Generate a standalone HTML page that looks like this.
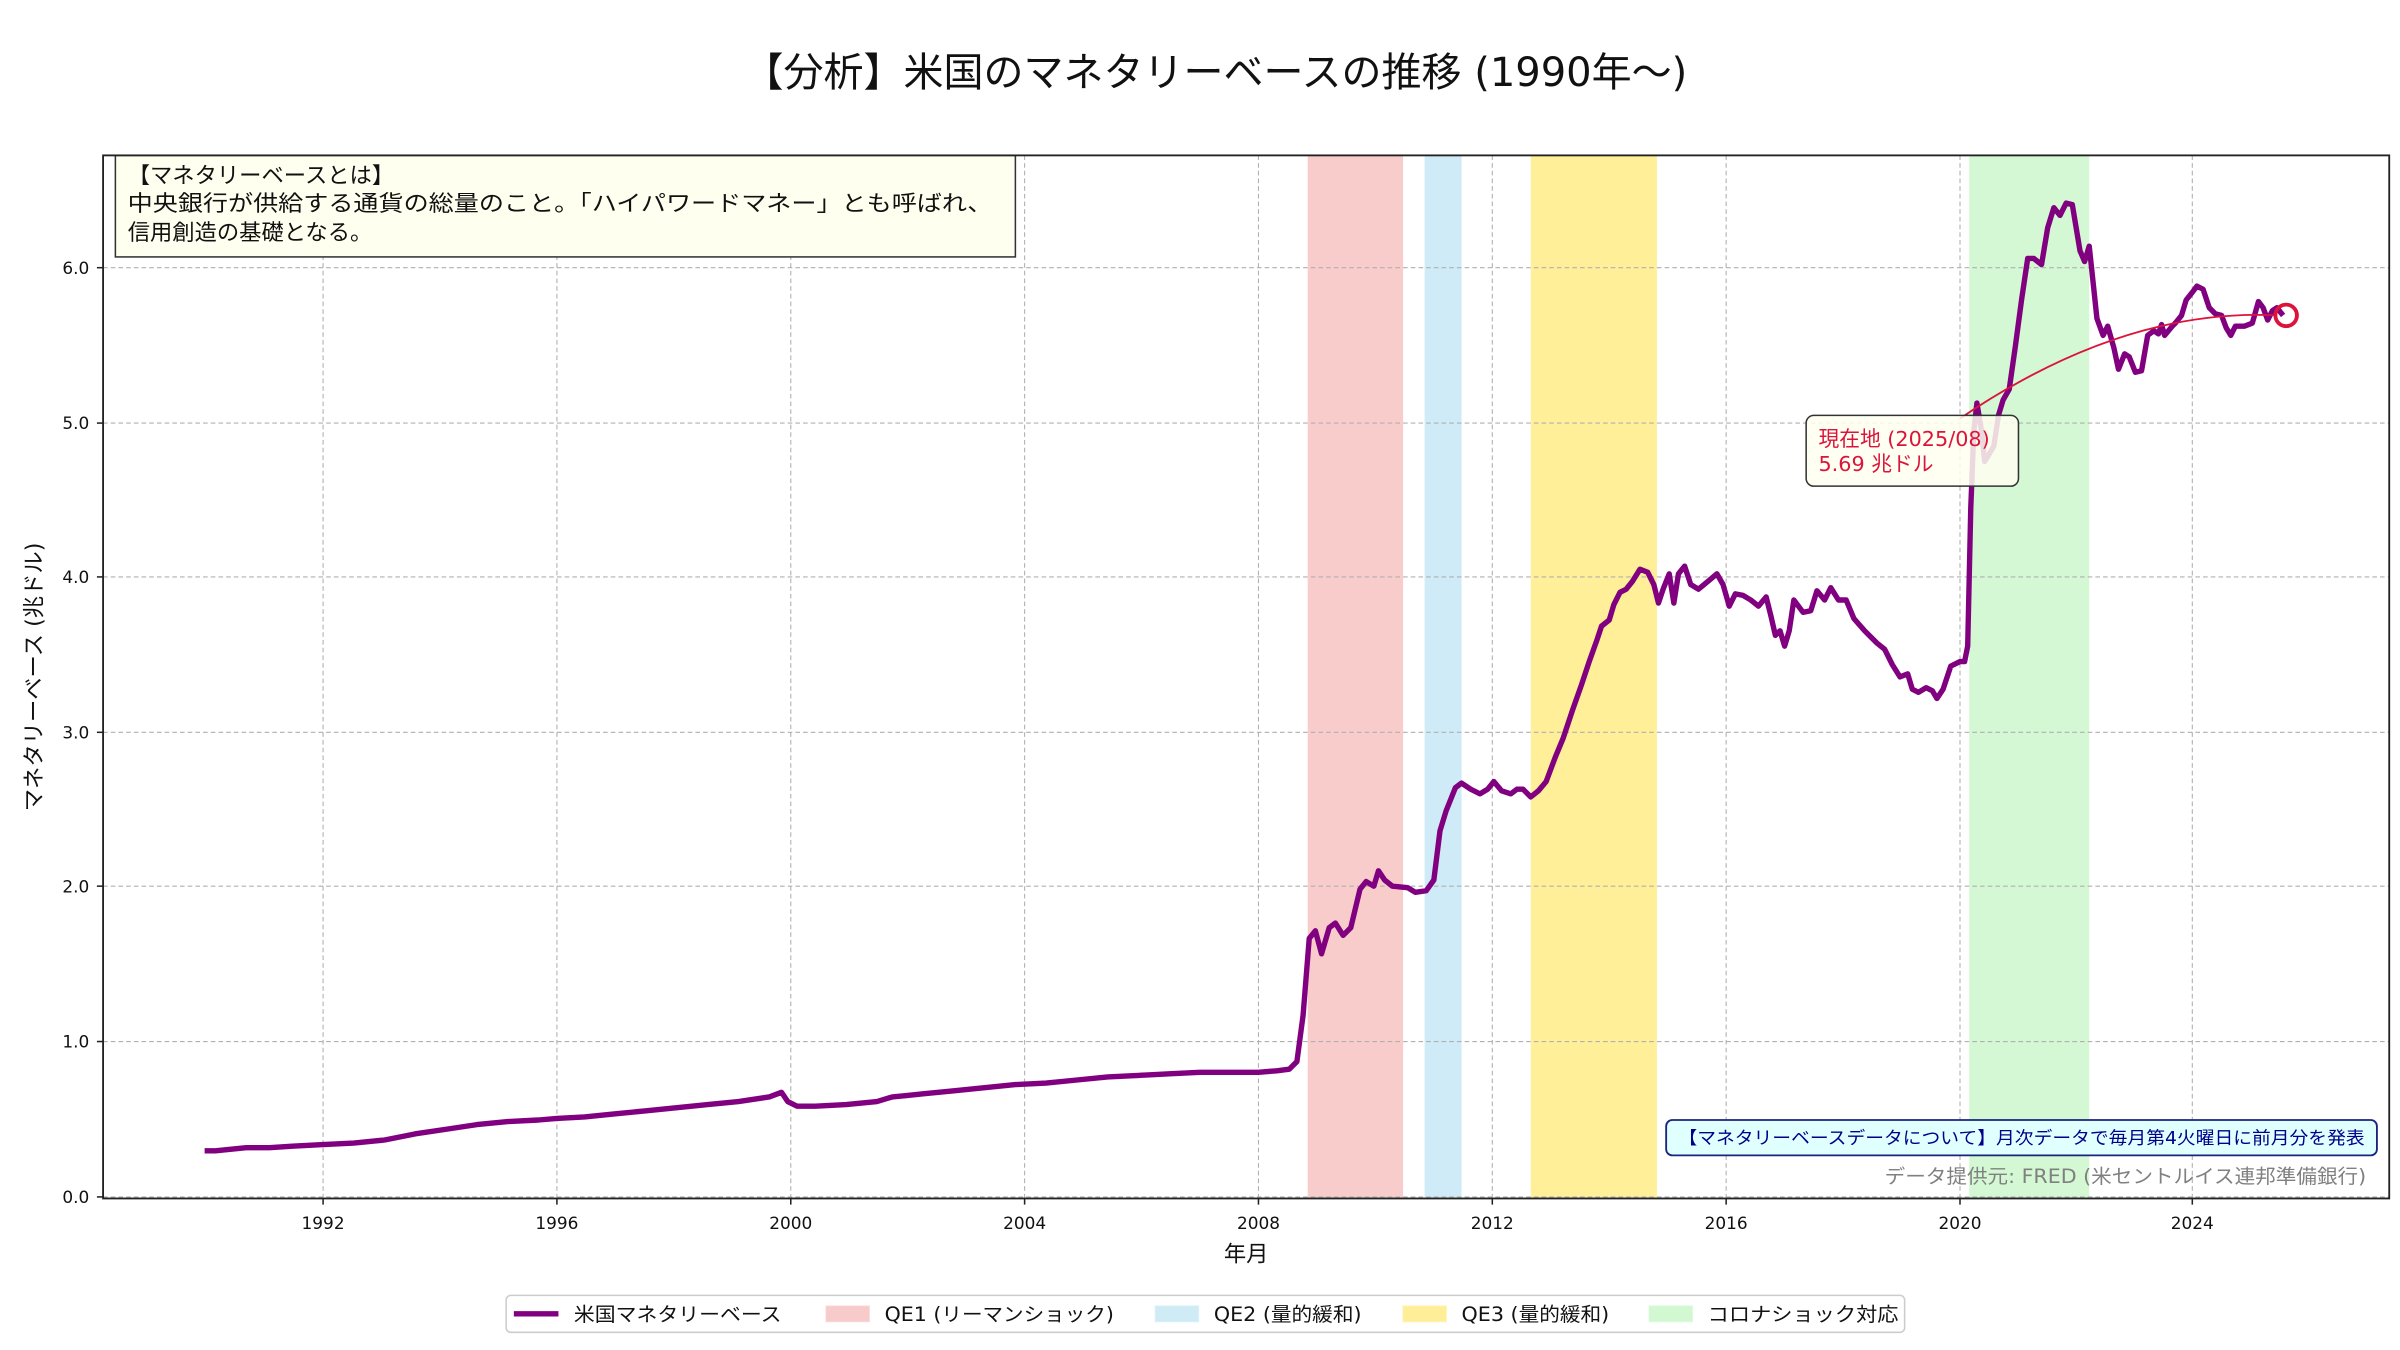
<!DOCTYPE html>
<html><head><meta charset="utf-8"><style>
html,body{margin:0;padding:0;background:#fff}
svg{display:block}
text{font-family:"DejaVu Sans","Noto Sans CJK JP",sans-serif}
</style></head><body>
<svg width="2400" height="1350" viewBox="0 0 1560 877.5" xmlns="http://www.w3.org/2000/svg">
<rect width="1560" height="877.5" fill="#fff"/>
<text x="790" y="56" font-size="26" text-anchor="middle" fill="#111">【分析】米国のマネタリーベースの推移 (1990年〜)</text>
<!-- spans -->
<rect x="850" y="101" width="62" height="678" fill="#f08080" opacity="0.4"/>
<rect x="926" y="101" width="24" height="678" fill="#87ceeb" opacity="0.4"/>
<rect x="995" y="101" width="82" height="678" fill="#ffd700" opacity="0.4"/>
<rect x="1280" y="101" width="78" height="678" fill="#90ee90" opacity="0.4"/>
<!-- grid -->
<g stroke="#b0b0b0" stroke-width="0.7" stroke-dasharray="3,2">
<line x1="210" y1="101" x2="210" y2="779"/><line x1="362" y1="101" x2="362" y2="779"/><line x1="514" y1="101" x2="514" y2="779"/><line x1="666" y1="101" x2="666" y2="779"/><line x1="818" y1="101" x2="818" y2="779"/><line x1="970" y1="101" x2="970" y2="779"/><line x1="1122" y1="101" x2="1122" y2="779"/><line x1="1274" y1="101" x2="1274" y2="779"/><line x1="1425" y1="101" x2="1425" y2="779"/>
<line x1="67" y1="778" x2="1553" y2="778"/><line x1="67" y1="677" x2="1553" y2="677"/><line x1="67" y1="576" x2="1553" y2="576"/><line x1="67" y1="476" x2="1553" y2="476"/><line x1="67" y1="375" x2="1553" y2="375"/><line x1="67" y1="275" x2="1553" y2="275"/><line x1="67" y1="174" x2="1553" y2="174"/>
</g>
<!-- series -->
<polyline fill="none" stroke="#800080" stroke-width="3.5" stroke-linejoin="round" points="133,748 140,748 160,746 175,746 190,745 210,744 230,743 250,741 270,737 290,734 310,731 330,729 350,728 362,727 380,726 400,724 420,722 440,720 460,718 480,716 500,713 508,710 512,716 518,719 530,719 550,718 570,716 580,713 590,712 600,711 620,709 640,707 660,705 680,704 700,702 720,700 740,699 760,698 780,697 800,697 818,697 830,696 838,695 843,690 847,660 851,610 855,605 859,620 864,603 868,600 873,608 878,603 884,578 888,573 893,576 896,566 900,572 905,576 915,577 920,580 927,579 932,572 936,540 940,527 946,512 950,509 956,513 962,516 967,513 971,508 976,514 982,516 986,513 990,513 995,518 1000,514 1005,508 1011,492 1016,480 1022,462 1028,445 1033,430 1038,416 1041,407 1046,403 1049,393 1053,385 1057,383 1061,378 1066,370 1071,372 1075,380 1078,392 1081,383 1085,373 1088,392 1091,373 1095,368 1099,380 1104,383 1110,378 1116,373 1120,380 1124,394 1128,386 1133,387 1138,390 1143,394 1148,388 1151,400 1154,413 1157,410 1160,420 1163,410 1166,390 1172,398 1177,397 1181,384 1186,390 1190,382 1195,390 1200,390 1205,402 1212,410 1220,418 1225,422 1230,432 1235,440 1240,438 1243,448 1247,450 1252,447 1256,449 1259,454 1263,448 1268,433 1274,430 1277,430 1279,420 1281,330 1283,280 1285,262 1288,280 1290,300 1293,295 1296,290 1299,270 1302,260 1306,253 1310,225 1314,195 1318,168 1322,168 1327,172 1331,148 1335,135 1339,140 1343,132 1347,133 1352,163 1355,170 1358,160 1361,188 1363,207 1367,218 1370,212 1374,226 1377,240 1381,230 1384,232 1388,242 1392,241 1396,218 1400,215 1403,217 1405,211 1407,218 1412,212 1414,210 1418,205 1421,195 1425,190 1428,186 1432,188 1436,200 1440,204 1444,205 1447,213 1450,218 1453,212 1456,212 1459,212 1464,210 1468,196 1471,200 1474,208 1477,202 1480,200 1484,205"/>
<!-- annotation -->
<path d="M1274,272 Q1380,200 1480,205" fill="none" stroke="#dc143c" stroke-width="1.2"/>
<circle cx="1486" cy="205" r="7" fill="none" stroke="#dc143c" stroke-width="2.5"/>
<rect x="1174" y="270" width="138" height="46" rx="5" fill="#fffff0" fill-opacity="0.85" stroke="#333" stroke-width="1"/>
<text x="1182" y="290" font-size="13.5" fill="#dc143c">現在地 (2025/08)</text>
<text x="1182" y="306" font-size="13.5" fill="#dc143c">5.69 兆ドル</text>
<!-- info box -->
<rect x="75" y="101" width="585" height="66" fill="#fffff0" stroke="#333" stroke-width="1"/>
<text x="83" y="119" font-size="14.5" fill="#111">【マネタリーベースとは】</text>
<text x="83" y="137" font-size="14.5" fill="#111" textLength="562" lengthAdjust="spacingAndGlyphs">中央銀行が供給する通貨の総量のこと。「ハイパワードマネー」とも呼ばれ、</text>
<text x="83" y="156" font-size="14.5" fill="#111">信用創造の基礎となる。</text>
<!-- note box -->
<rect x="1083" y="728" width="462" height="23" rx="4" fill="#e0ffff" stroke="#1a237e" stroke-width="1.2"/>
<text x="1314" y="743.5" font-size="11.5" text-anchor="middle" fill="#00008b" textLength="446" lengthAdjust="spacingAndGlyphs">【マネタリーベースデータについて】月次データで毎月第4火曜日に前月分を発表</text>
<text x="1538" y="769" font-size="12.5" text-anchor="end" fill="#808080" textLength="313" lengthAdjust="spacingAndGlyphs">データ提供元: FRED (米セントルイス連邦準備銀行)</text>
<!-- axes -->
<rect x="67" y="101" width="1486" height="678" fill="none" stroke="#222" stroke-width="1.2"/>
<g font-size="11" fill="#111" text-anchor="end">
<text x="58" y="782">0.0</text><text x="58" y="681">1.0</text><text x="58" y="580">2.0</text><text x="58" y="480">3.0</text><text x="58" y="379">4.0</text><text x="58" y="279">5.0</text><text x="58" y="178">6.0</text>
</g>
<g stroke="#222" stroke-width="1">
<line x1="63" y1="778" x2="67" y2="778"/><line x1="63" y1="677" x2="67" y2="677"/><line x1="63" y1="576" x2="67" y2="576"/><line x1="63" y1="476" x2="67" y2="476"/><line x1="63" y1="375" x2="67" y2="375"/><line x1="63" y1="275" x2="67" y2="275"/><line x1="63" y1="174" x2="67" y2="174"/>
<line x1="210" y1="779" x2="210" y2="783"/><line x1="362" y1="779" x2="362" y2="783"/><line x1="514" y1="779" x2="514" y2="783"/><line x1="666" y1="779" x2="666" y2="783"/><line x1="818" y1="779" x2="818" y2="783"/><line x1="970" y1="779" x2="970" y2="783"/><line x1="1122" y1="779" x2="1122" y2="783"/><line x1="1274" y1="779" x2="1274" y2="783"/><line x1="1425" y1="779" x2="1425" y2="783"/>
</g>
<g font-size="11" fill="#111" text-anchor="middle">
<text x="210" y="799">1992</text><text x="362" y="799">1996</text><text x="514" y="799">2000</text><text x="666" y="799">2004</text><text x="818" y="799">2008</text><text x="970" y="799">2012</text><text x="1122" y="799">2016</text><text x="1274" y="799">2020</text><text x="1425" y="799">2024</text>
</g>
<text x="810" y="820" font-size="14.5" text-anchor="middle" fill="#111">年月</text>
<text transform="translate(27,440) rotate(-90)" font-size="14.5" text-anchor="middle" fill="#111">マネタリーベース (兆ドル)</text>
<!-- legend -->
<rect x="329" y="842" width="909" height="24" rx="3" fill="#fff" stroke="#ccc" stroke-width="1"/>
<line x1="334" y1="854" x2="363" y2="854" stroke="#800080" stroke-width="3.5"/>
<text x="373" y="858.5" font-size="12.5" fill="#111" textLength="135" lengthAdjust="spacingAndGlyphs">米国マネタリーベース</text>
<rect x="537" y="849" width="28" height="10" fill="#f08080" opacity="0.4" stroke="#f08080" stroke-opacity="0.6"/>
<text x="575" y="858.5" font-size="12.5" fill="#111" textLength="149" lengthAdjust="spacingAndGlyphs">QE1 (リーマンショック)</text>
<rect x="751" y="849" width="28" height="10" fill="#87ceeb" opacity="0.4" stroke="#87ceeb" stroke-opacity="0.6"/>
<text x="789" y="858.5" font-size="12.5" fill="#111" textLength="96" lengthAdjust="spacingAndGlyphs">QE2 (量的緩和)</text>
<rect x="912" y="849" width="28" height="10" fill="#ffd700" opacity="0.4" stroke="#ffd700" stroke-opacity="0.6"/>
<text x="950" y="858.5" font-size="12.5" fill="#111" textLength="96" lengthAdjust="spacingAndGlyphs">QE3 (量的緩和)</text>
<rect x="1072" y="849" width="28" height="10" fill="#90ee90" opacity="0.4" stroke="#90ee90" stroke-opacity="0.6"/>
<text x="1110" y="858.5" font-size="12.5" fill="#111" textLength="124" lengthAdjust="spacingAndGlyphs">コロナショック対応</text>
</svg>
</body></html>
